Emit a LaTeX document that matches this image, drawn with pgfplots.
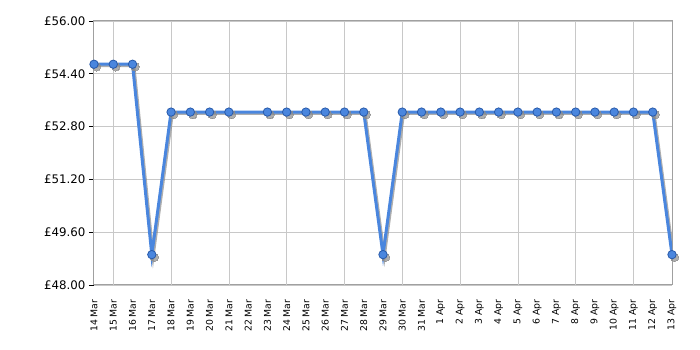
\documentclass[border=0pt]{standalone}
\usepackage{pgfplots}
\pgfplotsset{compat=1.18}
\usepackage{fontspec}
\setmainfont{DejaVu Sans}
\definecolor{lineblue}{RGB}{74,134,222}
\definecolor{markedge}{RGB}{40,90,170}
\definecolor{gridgray}{RGB}{200,200,200}
\definecolor{axisgray}{RGB}{160,160,160}
\pgfplotstableread{
x y
0 54.69
1 54.69
2 54.69
3 48.92
4 53.24
5 53.24
6 53.24
7 53.24
9 53.24
10 53.24
11 53.24
12 53.24
13 53.24
14 53.24
15 48.92
16 53.24
17 53.24
18 53.24
19 53.24
20 53.24
21 53.24
22 53.24
23 53.24
24 53.24
25 53.24
26 53.24
27 53.24
28 53.24
29 53.24
30 48.92
}\prices
\begin{document}
\begin{tikzpicture}
\begin{axis}[
  name=ax,
  scale only axis,
  width=578pt, height=264pt,
  xmin=0, xmax=30, ymin=48, ymax=56,
  axis line style={axisgray, line width=1pt},
  xtick={0,...,30},
  xticklabels={14 Mar,15 Mar,16 Mar,17 Mar,18 Mar,19 Mar,20 Mar,21 Mar,22 Mar,23 Mar,24 Mar,25 Mar,26 Mar,27 Mar,28 Mar,29 Mar,30 Mar,31 Mar,1 Apr,2 Apr,3 Apr,4 Apr,5 Apr,6 Apr,7 Apr,8 Apr,9 Apr,10 Apr,11 Apr,12 Apr,13 Apr},
  x tick label style={rotate=90, anchor=east, font=\fontsize{9.3}{10}\selectfont, xshift=-6pt},
  major x tick style={draw=none},
  extra x ticks={1,4,7,10,13,16,19,22,25,28},
  extra x tick labels={},
  extra x tick style={grid=major, tick style={black, line width=0.8pt}, major tick length=5pt, tick align=outside},
  ytick={48,49.6,51.2,52.8,54.4,56},
  yticklabels={£48.00,£49.60,£51.20,£52.80,£54.40,£56.00},
  y tick label style={font=\fontsize{11.8}{13}\selectfont},
  ymajorgrids,
  ytick style={black, line width=0.8pt},
  major tick length=5pt,
  tick align=outside,
  tick pos=left,
  grid style={gridgray, line width=0.6pt},
  /pgf/number format/assume math mode=true,
]
\addplot[black!45, opacity=0.7, line width=3pt, mark=*, mark size=4.2pt, mark options={fill=black!45, draw=none, line width=0pt}, transform canvas={xshift=1.3pt, yshift=-1.3pt}] table[x=x, y=y] {\prices};
\addplot[lineblue, line width=3pt, mark=*, mark size=4.2pt, mark options={fill=lineblue, draw=markedge, line width=0.8pt}] table[x=x, y=y] {\prices};
\end{axis}
\pgfresetboundingbox
\path ([shift={(-94pt,-65pt)}]ax.south west) rectangle ([shift={(28pt,21pt)}]ax.north east);
\end{tikzpicture}
\end{document}
